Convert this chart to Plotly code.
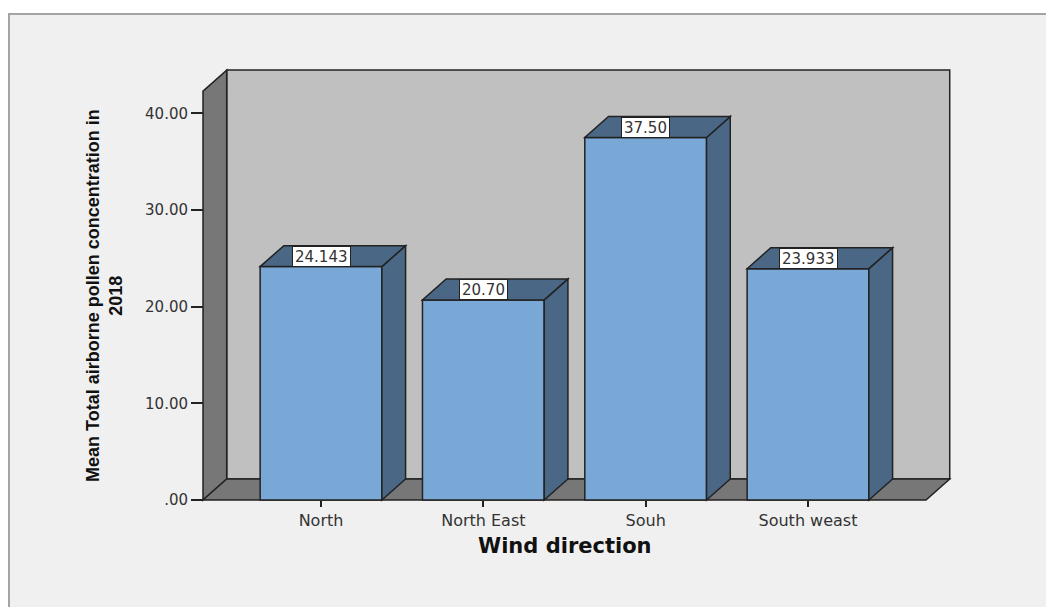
import plotly.graph_objects as go

# Mean total airborne pollen concentration (2018) by wind direction
directions = ["North", "North East", "Souh", "South weast"]
mean_pollen = [24.143, 20.70, 37.50, 23.933]
value_labels = ["24.143", "20.70", "37.50", "23.933"]
y_tick_values = [0, 10, 20, 30, 40]
y_tick_labels = [".00", "10.00", "20.00", "30.00", "40.00"]

# --- 3D look: depth offset of the box and bars, in axis units ---
BAR_W = 0.75
DX = 0.146          # depth along x (category units)
DY = 2.17           # depth along y (value units)
X0, X1 = -0.727, 3.727   # front floor extent
Y_WALL = 42.3            # front top of the side wall

FRONT = "#7aa8d6"
SIDE = "#4a6886"
BACK = "#c0c0c0"
WALL = "#777777"
EDGE = "#222222"

W, H = 1046, 607
ML, MR, MT, MB = 200, 94, 67, 104
plot_w = W - ML - MR
plot_h = H - MT - MB
px_per_x = 162.33
px_per_y = 9.667
x_lo = X0 - 3 / px_per_x
x_hi = x_lo + plot_w / px_per_x
y_lo = -3 / px_per_y
y_hi = y_lo + plot_h / px_per_y


def paper_x(px):
    return (px - ML) / plot_w


def paper_y(py):
    return (H - MB - py) / plot_h


fig = go.Figure()

fig.add_trace(go.Bar(
    x=list(range(len(directions))), y=mean_pollen, width=BAR_W,
    marker=dict(color=FRONT, line=dict(color=EDGE, width=1.5)),
    showlegend=False, hoverinfo="skip",
))


def poly(pts):
    return "M " + " L ".join(f"{x},{y}" for x, y in pts) + " Z"


shapes = []
# outer chart frame
shapes.append(dict(type="rect", xref="paper", yref="paper",
                   x0=paper_x(9), x1=paper_x(W + 20),
                   y0=paper_y(H + 20), y1=paper_y(14),
                   fillcolor="#f0f0f0", line=dict(color="#a4a4a4", width=2), layer="below"))
# back wall
shapes.append(dict(type="path", layer="below",
                   path=poly([(X0 + DX, DY), (X1 + DX, DY), (X1 + DX, Y_WALL + DY), (X0 + DX, Y_WALL + DY)]),
                   fillcolor=BACK, line=dict(color=EDGE, width=1.5)))
# left wall
shapes.append(dict(type="path", layer="below",
                   path=poly([(X0, 0), (X0, Y_WALL), (X0 + DX, Y_WALL + DY), (X0 + DX, DY)]),
                   fillcolor=WALL, line=dict(color=EDGE, width=1.5)))
# floor
shapes.append(dict(type="path", layer="below",
                   path=poly([(X0, 0), (X1, 0), (X1 + DX, DY), (X0 + DX, DY)]),
                   fillcolor=WALL, line=dict(color=EDGE, width=1.5)))

# side and top faces of each bar
for i, v in enumerate(mean_pollen):
    xl, xr = i - BAR_W / 2, i + BAR_W / 2
    shapes.append(dict(type="path", layer="above",
                       path=poly([(xr, 0), (xr + DX, DY), (xr + DX, v + DY), (xr, v)]),
                       fillcolor=SIDE, line=dict(color=EDGE, width=1.5)))
    shapes.append(dict(type="path", layer="above",
                       path=poly([(xl, v), (xr, v), (xr + DX, v + DY), (xl + DX, v + DY)]),
                       fillcolor=SIDE, line=dict(color=EDGE, width=1.5)))

annotations = []
for i, (v, lab) in enumerate(zip(mean_pollen, value_labels)):
    annotations.append(dict(x=i, y=v + DY / 2, xref="x", yref="y", text=lab,
                            showarrow=False, xanchor="center", yanchor="middle",
                            bgcolor="white", bordercolor=EDGE, borderwidth=1,
                            borderpad=2, height=15,
                            font=dict(family="DejaVu Sans", size=15, color="#333333")))

# axis titles
annotations.append(dict(x=paper_x(565), y=paper_y(546),
                        xref="paper", yref="paper", text="<b>Wind direction</b>",
                        showarrow=False, xanchor="center", yanchor="middle",
                        font=dict(family="DejaVu Sans", size=21, color="#111111")))
annotations.append(dict(x=paper_x(104), y=paper_y(296),
                        xref="paper", yref="paper",
                        text="<b>Mean Total airborne pollen concentration in<br>2018</b>",
                        textangle=-90, showarrow=False, xanchor="center", yanchor="middle",
                        font=dict(family="Liberation Sans, Arial, sans-serif",
                                  size=18, color="#111111")))

fig.update_layout(
    width=W, height=H,
    margin=dict(l=ML, r=MR, t=MT, b=MB),
    paper_bgcolor="white", plot_bgcolor="rgba(0,0,0,0)",
    shapes=shapes, annotations=annotations,
    xaxis=dict(range=[x_lo, x_hi], tickvals=list(range(len(directions))), ticktext=directions,
               ticks="outside", ticklen=6, tickwidth=1.5, tickcolor=EDGE,
               showgrid=False, zeroline=False, showline=False,
               anchor="free", position=3 / plot_h,
               tickfont=dict(family="DejaVu Sans", size=16, color="#333333")),
    yaxis=dict(range=[y_lo, y_hi], tickvals=y_tick_values, ticktext=y_tick_labels,
               ticks="outside", ticklen=12, tickwidth=1.5, tickcolor=EDGE,
               showgrid=False, zeroline=False, showline=False,
               anchor="free", position=3 / plot_w,
               tickfont=dict(family="DejaVu Sans", size=15, color="#333333")),
)

fig.write_html("out.html")
